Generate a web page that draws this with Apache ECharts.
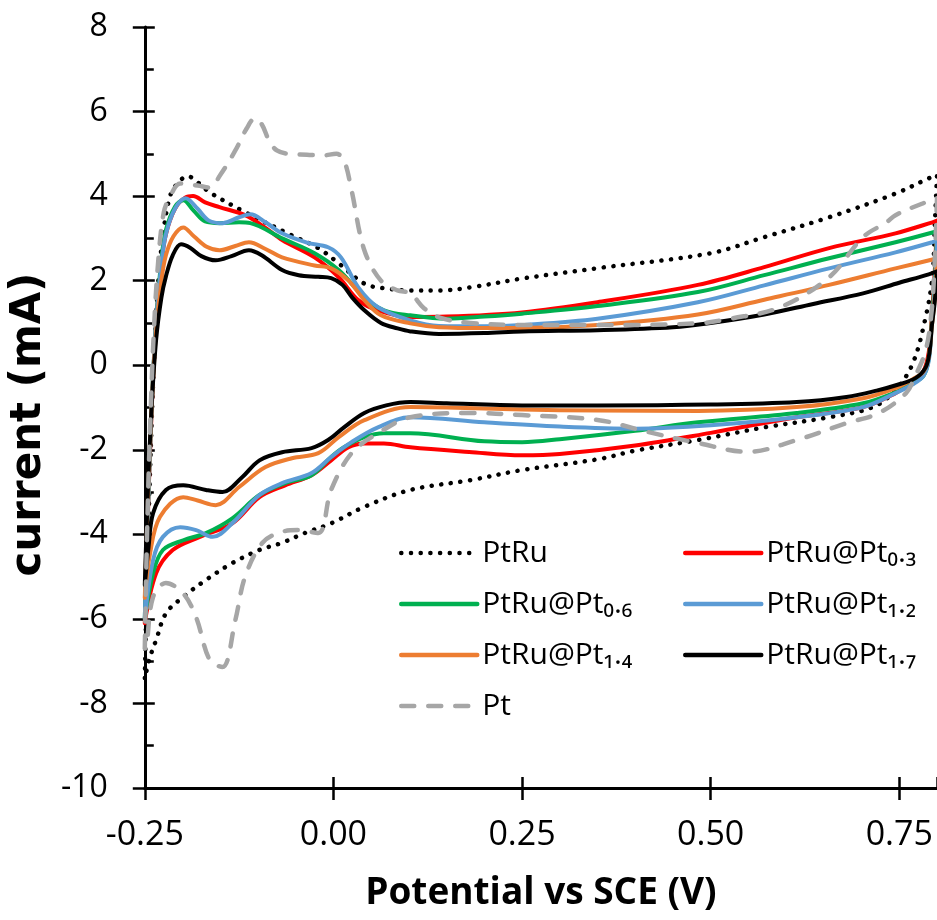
<!DOCTYPE html>
<html>
<head>
<meta charset="utf-8">
<title>Cyclic voltammograms</title>
<script src="https://cdn.jsdelivr.net/npm/echarts@6/dist/echarts.min.js"></script>
<style>
  html, body { margin: 0; padding: 0; background: #fff; }
  #chart { width: 937px; height: 920px; }
</style>
</head>
<body>
<div id="chart"></div>
<script>
// [potential (V vs SCE), current (mA)].
// each loop: anodic sweep left->right, then cathodic sweep back.
var ptRu = [
  [-0.25, -7.4], [-0.247, -5.0], [-0.243, -2.5], [-0.238, 0], [-0.232, 2.0], [-0.225, 3.2],
  [-0.217, 3.97], [-0.209, 4.25], [-0.193, 4.47], [-0.178, 4.3], [-0.164, 4.09], [-0.117, 3.62],
  [-0.055, 3.07], [-0.02, 2.77], [0.007, 2.41], [0.041, 1.93], [0.067, 1.82], [0.102, 1.77],
  [0.142, 1.77], [0.181, 1.84], [0.25, 2.05], [0.352, 2.3], [0.5, 2.65], [0.571, 3.03],
  [0.657, 3.5], [0.745, 4.06], [0.789, 4.42], [0.8, 4.5],
  [0.797, 3.3], [0.794, 2.1], [0.785, 1.14], [0.768, 0.05], [0.745, -0.59], [0.715, -0.99],
  [0.657, -1.23], [0.571, -1.47], [0.483, -1.77], [0.4, -2.02], [0.352, -2.22], [0.25, -2.48],
  [0.181, -2.72], [0.102, -2.95], [0.041, -3.35], [-0.003, -3.74], [-0.038, -3.97], [-0.068, -4.2],
  [-0.098, -4.37], [-0.134, -4.68], [-0.169, -5.08], [-0.199, -5.48], [-0.222, -5.87], [-0.235, -6.5],
  [-0.243, -6.9], [-0.25, -7.4]
];
var ptRu03 = [
  [-0.25, -6.1], [-0.246, -3.6], [-0.241, -1.1], [-0.235, 1.0], [-0.228, 2.4], [-0.222, 3.1],
  [-0.21, 3.7], [-0.196, 3.97], [-0.186, 4.0], [-0.17, 3.85], [-0.151, 3.74], [-0.117, 3.55],
  [-0.09, 3.25], [-0.068, 2.96], [-0.025, 2.55], [0.007, 2.08], [0.033, 1.54], [0.059, 1.3],
  [0.102, 1.14], [0.15, 1.15], [0.25, 1.25], [0.35, 1.49], [0.483, 1.9], [0.571, 2.32],
  [0.657, 2.77], [0.745, 3.12], [0.794, 3.38], [0.8, 3.42],
  [0.797, 2.2], [0.793, 1.1], [0.789, 0.3], [0.782, -0.15], [0.772, -0.35], [0.745, -0.66],
  [0.702, -0.99], [0.614, -1.23], [0.5, -1.6], [0.4, -1.9], [0.3, -2.1], [0.25, -2.13],
  [0.18, -2.05], [0.102, -1.94], [0.067, -1.85], [0.041, -1.85], [0.02, -1.94], [-0.003, -2.25],
  [-0.029, -2.6], [-0.064, -2.84], [-0.098, -3.12], [-0.134, -3.74], [-0.177, -4.06], [-0.213, -4.37],
  [-0.235, -4.92], [-0.25, -6.1]
];
var ptRu06 = [
  [-0.25, -6.0], [-0.246, -3.5], [-0.241, -1.0], [-0.235, 1.0], [-0.228, 2.5], [-0.222, 3.2],
  [-0.21, 3.75], [-0.199, 3.9], [-0.185, 3.65], [-0.17, 3.4], [-0.151, 3.36], [-0.125, 3.38],
  [-0.11, 3.36], [-0.068, 3.0], [-0.025, 2.65], [0.007, 2.25], [0.041, 1.61], [0.067, 1.3],
  [0.102, 1.18], [0.15, 1.1], [0.2, 1.15], [0.25, 1.22], [0.35, 1.4], [0.483, 1.73],
  [0.571, 2.13], [0.657, 2.53], [0.745, 2.91], [0.794, 3.14], [0.8, 3.18],
  [0.797, 2.0], [0.793, 1.0], [0.789, 0.15], [0.782, -0.25], [0.768, -0.42], [0.745, -0.64],
  [0.702, -0.9], [0.614, -1.13], [0.483, -1.35], [0.4, -1.55], [0.3, -1.75], [0.25, -1.82],
  [0.2, -1.8], [0.102, -1.61], [0.067, -1.61], [0.041, -1.7], [0.014, -1.94], [-0.003, -2.17],
  [-0.029, -2.6], [-0.064, -2.79], [-0.098, -3.07], [-0.134, -3.62], [-0.169, -3.97], [-0.199, -4.14],
  [-0.226, -4.37], [-0.239, -4.92], [-0.25, -6.0]
];
var ptRu12 = [
  [-0.25, -6.0], [-0.246, -3.5], [-0.241, -1.0], [-0.235, 1.0], [-0.228, 2.4], [-0.222, 3.1],
  [-0.21, 3.7], [-0.196, 3.95], [-0.18, 3.7], [-0.165, 3.42], [-0.147, 3.36], [-0.125, 3.5],
  [-0.11, 3.57], [-0.09, 3.38], [-0.068, 3.12], [-0.035, 2.9], [-0.007, 2.79], [0.01, 2.55],
  [0.033, 1.84], [0.059, 1.37], [0.102, 1.06], [0.14, 0.93], [0.2, 0.92], [0.25, 0.95],
  [0.35, 1.1], [0.483, 1.49], [0.571, 1.89], [0.657, 2.29], [0.745, 2.67], [0.794, 2.91], [0.8, 2.95],
  [0.797, 1.8], [0.793, 0.9], [0.789, 0.1], [0.782, -0.25], [0.768, -0.45], [0.745, -0.66],
  [0.702, -0.99], [0.614, -1.23], [0.5, -1.42], [0.4, -1.5], [0.3, -1.45], [0.2, -1.35],
  [0.102, -1.23], [0.059, -1.47], [0.024, -1.82], [-0.003, -2.17], [-0.029, -2.55], [-0.068, -2.79],
  [-0.098, -3.07], [-0.134, -3.74], [-0.16, -4.06], [-0.182, -3.9], [-0.203, -3.83], [-0.226, -4.06],
  [-0.239, -4.61], [-0.25, -6.0]
];
var ptRu14 = [
  [-0.25, -5.5], [-0.246, -3.2], [-0.241, -1.0], [-0.235, 0.8], [-0.228, 2.0], [-0.222, 2.6],
  [-0.212, 3.05], [-0.199, 3.26], [-0.185, 3.05], [-0.168, 2.8], [-0.151, 2.72], [-0.13, 2.82],
  [-0.112, 2.91], [-0.09, 2.75], [-0.068, 2.55], [-0.025, 2.36], [-0.003, 2.29], [0.02, 2.0],
  [0.041, 1.54], [0.063, 1.18], [0.102, 0.99], [0.14, 0.9], [0.2, 0.88], [0.25, 0.88],
  [0.35, 0.95], [0.483, 1.2], [0.571, 1.55], [0.657, 1.9], [0.745, 2.29], [0.794, 2.5], [0.8, 2.53],
  [0.797, 1.6], [0.793, 0.9], [0.789, 0.2], [0.782, -0.15], [0.768, -0.33], [0.745, -0.54],
  [0.702, -0.78], [0.614, -0.99], [0.483, -1.08], [0.35, -1.07], [0.25, -1.05], [0.15, -1.0],
  [0.102, -0.99], [0.041, -1.3], [0.007, -1.7], [-0.02, -2.08], [-0.055, -2.2], [-0.09, -2.41],
  [-0.125, -2.88], [-0.156, -3.31], [-0.18, -3.2], [-0.199, -3.12], [-0.23, -3.59], [-0.243, -4.45],
  [-0.25, -5.5]
];
var ptRu17 = [
  [-0.25, -5.2], [-0.246, -3.0], [-0.241, -1.0], [-0.235, 0.6], [-0.228, 1.6], [-0.222, 2.1],
  [-0.213, 2.6], [-0.202, 2.86], [-0.19, 2.78], [-0.175, 2.58], [-0.156, 2.48], [-0.135, 2.58],
  [-0.112, 2.72], [-0.095, 2.6], [-0.068, 2.25], [-0.046, 2.13], [-0.02, 2.09], [-0.003, 2.06],
  [0.012, 1.9], [0.025, 1.6], [0.041, 1.3], [0.063, 1.0], [0.085, 0.87], [0.102, 0.8],
  [0.14, 0.74], [0.2, 0.76], [0.25, 0.8], [0.35, 0.83], [0.45, 0.9], [0.5, 1.0], [0.571, 1.2],
  [0.636, 1.45], [0.702, 1.7], [0.75, 1.95], [0.789, 2.15], [0.8, 2.22],
  [0.797, 1.5], [0.793, 0.9], [0.79, 0.3], [0.785, -0.05], [0.772, -0.3], [0.75, -0.45],
  [0.72, -0.6], [0.68, -0.75], [0.614, -0.87], [0.5, -0.93], [0.35, -0.95], [0.25, -0.95],
  [0.15, -0.9], [0.102, -0.87], [0.07, -0.95], [0.041, -1.13], [0.014, -1.47], [-0.007, -1.77],
  [-0.029, -1.96], [-0.068, -2.06], [-0.098, -2.25], [-0.121, -2.65], [-0.147, -3.0], [-0.169, -2.95],
  [-0.199, -2.84], [-0.222, -2.95], [-0.239, -3.5], [-0.245, -4.3], [-0.25, -5.2]
];
var pt = [
  [-0.25, -6.7], [-0.247, -4.0], [-0.243, -1.5], [-0.238, 0.8], [-0.232, 2.5], [-0.225, 3.6],
  [-0.217, 3.97], [-0.203, 4.3], [-0.18, 4.25], [-0.164, 4.2], [-0.15, 4.5], [-0.13, 5.08],
  [-0.115, 5.6], [-0.104, 5.84], [-0.095, 5.7], [-0.085, 5.3], [-0.075, 5.08], [-0.06, 5.0],
  [-0.035, 4.98], [-0.015, 4.96], [0.004, 5.0], [0.014, 4.85], [0.024, 4.14], [0.041, 2.72],
  [0.063, 2.0], [0.085, 1.77], [0.102, 1.7], [0.12, 1.35], [0.142, 1.12], [0.181, 1.0],
  [0.25, 0.95], [0.352, 0.95], [0.483, 0.99], [0.526, 1.1], [0.592, 1.37], [0.657, 2.08],
  [0.702, 3.03], [0.733, 3.38], [0.745, 3.55], [0.78, 3.82], [0.8, 3.95],
  [0.797, 2.5], [0.793, 1.3], [0.785, 0.35], [0.77, -0.3], [0.759, -0.66], [0.723, -1.13],
  [0.68, -1.37], [0.614, -1.77], [0.549, -2.05], [0.483, -1.84], [0.417, -1.58], [0.352, -1.3],
  [0.25, -1.18], [0.181, -1.13], [0.102, -1.23], [0.059, -1.61], [0.024, -2.08], [-0.003, -2.95],
  [-0.02, -3.97], [-0.046, -3.9], [-0.068, -3.94], [-0.094, -4.2], [-0.117, -5.0], [-0.13, -6.03],
  [-0.147, -7.14], [-0.164, -6.97], [-0.182, -5.96], [-0.199, -5.4], [-0.222, -5.15], [-0.239, -5.48],
  [-0.248, -6.67], [-0.25, -6.7]
];

var names = ['PtRu', 'PtRu@Pt₀.₃', 'PtRu@Pt₀.₆', 'PtRu@Pt₁.₂', 'PtRu@Pt₁.₄', 'PtRu@Pt₁.₇', 'Pt'];
var curves = [ptRu, ptRu03, ptRu06, ptRu12, ptRu14, ptRu17, pt];
var colors = ['#000000', '#ff0000', '#00b050', '#5b9bd5', '#ed7d31', '#000000', '#a6a6a6'];
var dashes = [[0.1, 9.6], 'solid', 'solid', 'solid', 'solid', 'solid', [13, 14]];
var widths = [4.5, 4, 4, 4, 4, 4, 4.5];

var xMin = -0.25, xMax = 0.8, xStep = 0.25;
var yMin = -10, yMax = 8, yStep = 2;

var chart = echarts.init(document.getElementById('chart'));

var series = curves.map(function (d, i) {
  return {
    name: names[i],
    type: 'line',
    data: d,
    symbol: 'none',
    smooth: 0.35,
    clip: true,
    lineStyle: { color: colors[i], width: widths[i], type: dashes[i], cap: 'round', join: 'round' },
    itemStyle: { color: colors[i] },
    z: 2 + i
  };
});

var axisBase = function (extra) {
  return Object.assign({
    type: 'value',
    splitLine: { show: false },
    axisLine: { onZero: false, lineStyle: { color: '#000', width: 3 } },
    axisTick: { lineStyle: { color: '#000', width: 2.5 } }
  }, extra);
};

var legendText = {
  fontFamily: "'Open Sans', 'Noto Sans', sans-serif",
  fontSize: 30,
  lineHeight: 30,
  color: '#000'
};

// legend shows only the line sample, no marker
var legendBase = function (extra) {
  return Object.assign({
    orient: 'vertical', top: 538, padding: 0, itemGap: 21,
    itemWidth: 76, itemHeight: 14,
    itemStyle: { color: 'rgba(0,0,0,0)', borderWidth: 0, opacity: 0 },
    lineStyle: { width: 4.5, cap: 'round' },
    textStyle: legendText
  }, extra);
};

var option = {
  animation: false,
  backgroundColor: '#fff',
  grid: { left: 142, top: 27, width: 800, height: 761, containLabel: false },
  xAxis: [
    axisBase({
      min: xMin, max: xMax, interval: xStep, position: 'bottom',
      name: 'Potential vs SCE (V)', nameLocation: 'middle', nameGap: 87,
      nameTextStyle: { fontFamily: "'Open Sans', sans-serif", fontWeight: 'bold', fontSize: 37, color: '#000' },
      axisTick: { length: 12, lineStyle: { color: '#000', width: 2.5 } },
      axisLabel: {
        margin: 30, showMaxLabel: false, color: '#000',
        fontFamily: "'Open Sans', sans-serif", fontSize: 34,
        formatter: function (v) { return v.toFixed(2); }
      }
    }),
    axisBase({
      min: xMin, max: xMax, interval: xStep, position: 'bottom',
      axisLine: { show: false, onZero: false },
      axisTick: { inside: true, length: 11, lineStyle: { color: '#000', width: 2.5 } },
      axisLabel: { show: false }
    })
  ],
  yAxis: [
    axisBase({
      min: yMin, max: yMax, interval: yStep, position: 'left',
      name: 'current (mA)', nameLocation: 'middle', nameGap: 88, nameRotate: 90,
      nameTextStyle: {
        fontFamily: "'DejaVu Sans', sans-serif", fontWeight: 'bold', fontSize: 42, color: '#000',
        padding: [0, 34, 0, 0]
      },
      axisTick: { length: 12, lineStyle: { color: '#000', width: 2.5 } },
      axisLabel: {
        margin: 37, color: '#000',
        fontFamily: "'Open Sans', sans-serif", fontSize: 32
      }
    }),
    axisBase({
      min: yMin, max: yMax, interval: yStep, position: 'left',
      axisLine: { show: false, onZero: false },
      axisTick: { inside: true, length: 10, lineStyle: { color: '#000', width: 2.5 } },
      minorTick: { show: true, splitNumber: 2, length: 9, lineStyle: { color: '#000', width: 2.5 } },
      axisLabel: { show: false }
    })
  ],
  legend: [
    legendBase({ left: 399, data: [names[0], names[2], names[4], names[6]] }),
    legendBase({ left: 683, data: [names[1], names[3], names[5]] })
  ],
  series: series
};

chart.setOption(option);
</script>
</body>
</html>
